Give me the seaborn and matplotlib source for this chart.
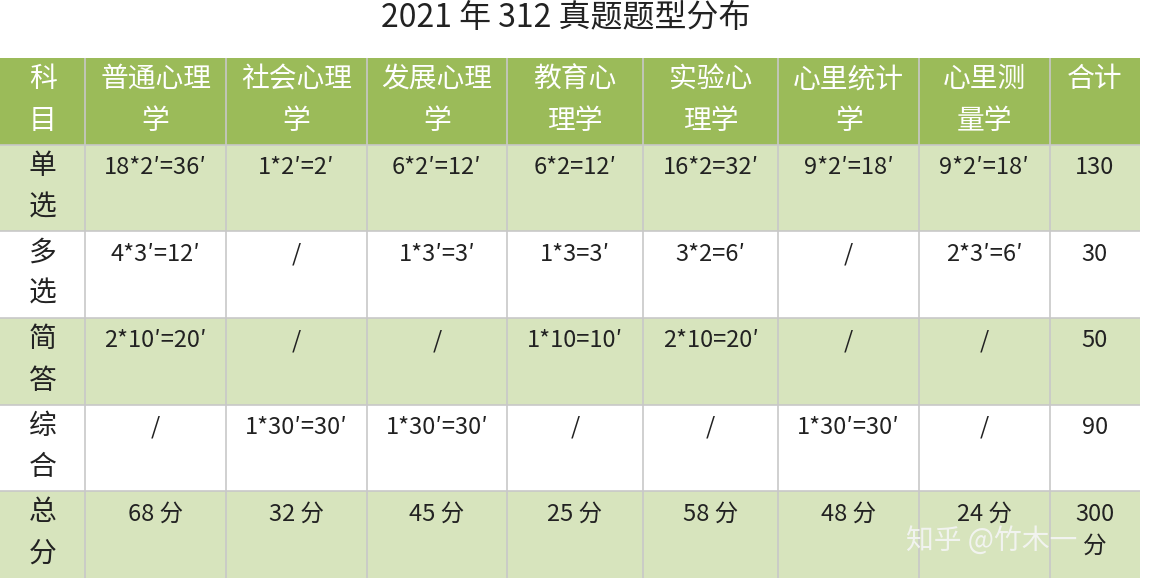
import numpy as np
import matplotlib
matplotlib.use("Agg")
import matplotlib.pyplot as plt
from matplotlib.colors import ListedColormap
import seaborn as sns

title = "2021 年 312 真题题型分布"
header = ["科\n目", "普通心理\n学", "社会心理\n学", "发展心理\n学", "教育心\n理学", "实验心\n理学", "心里统计\n学", "心里测\n量学", "合计"]
row_names = ["单\n选", "多\n选", "简\n答", "综\n合", "总\n分"]
single = ["18*2′=36′", "1*2′=2′", "6*2′=12′", "6*2=12′", "16*2=32′", "9*2′=18′", "9*2′=18′", "130"]
multi = ["4*3′=12′", "/", "1*3′=3′", "1*3=3′", "3*2=6′", "/", "2*3′=6′", "30"]
short = ["2*10′=20′", "/", "/", "1*10=10′", "2*10=20′", "/", "/", "50"]
essay = ["/", "1*30′=30′", "1*30′=30′", "/", "/", "1*30′=30′", "/", "90"]
total = ["68 分", "32 分", "45 分", "25 分", "58 分", "48 分", "24 分", "300\n分"]
body = [single, multi, short, essay, total]

col_units = [17, 28, 28, 28, 27, 27, 28, 26, 18]
row_kind = [0, 1, 2, 1, 2, 1]  # 0 header, 1 light green, 2 white

sns.set_theme(style="white")
plt.rcParams["font.family"] = ["Noto Sans CJK SC", "DejaVu Sans"]

ncols = sum(col_units)
grid = np.array([[k] * ncols for k in row_kind])
cmap = ListedColormap(["#9bbb59", "#d7e4bd", "#ffffff"])

fig = plt.figure(figsize=(11.54, 5.88), dpi=100)
ax = fig.add_axes([0, 10 / 588, 1140 / 1154, 520 / 588])
sns.heatmap(grid, cmap=cmap, vmin=-0.5, vmax=2.5, cbar=False, ax=ax,
            xticklabels=False, yticklabels=False)

edges = np.concatenate([[0], np.cumsum(col_units)])
centers = (edges[:-1] + edges[1:]) / 2
for x in edges[1:-1]:
    ax.axvline(x, color="#c8c8c8", lw=1.2)
for y in range(1, 6):
    ax.axhline(y, color="#c8c8c8", lw=1.2)

for j, h in enumerate(header):
    ax.text(centers[j], 0.07, h, ha="center", va="top", color="white",
            fontsize=20, linespacing=1.5)
for i, (name, vals) in enumerate(zip(row_names, body)):
    r = i + 1
    ax.text(centers[0], r + 0.07, name, ha="center", va="top", color="#222222",
            fontsize=20, linespacing=1.5)
    for j, v in enumerate(vals):
        ax.text(centers[j + 1], r + 0.13, v, ha="center", va="top", color="#222222",
                fontsize=17, linespacing=1.5)

fig.text(0.49, 0.97, title, ha="center", va="center", fontsize=23, color="#222222")
fig.text(0.785, 0.08, "知乎 @竹木一", ha="left", va="center", fontsize=20,
         color="#f5f5f5", alpha=0.9)
fig.savefig("out.png", dpi=100)
